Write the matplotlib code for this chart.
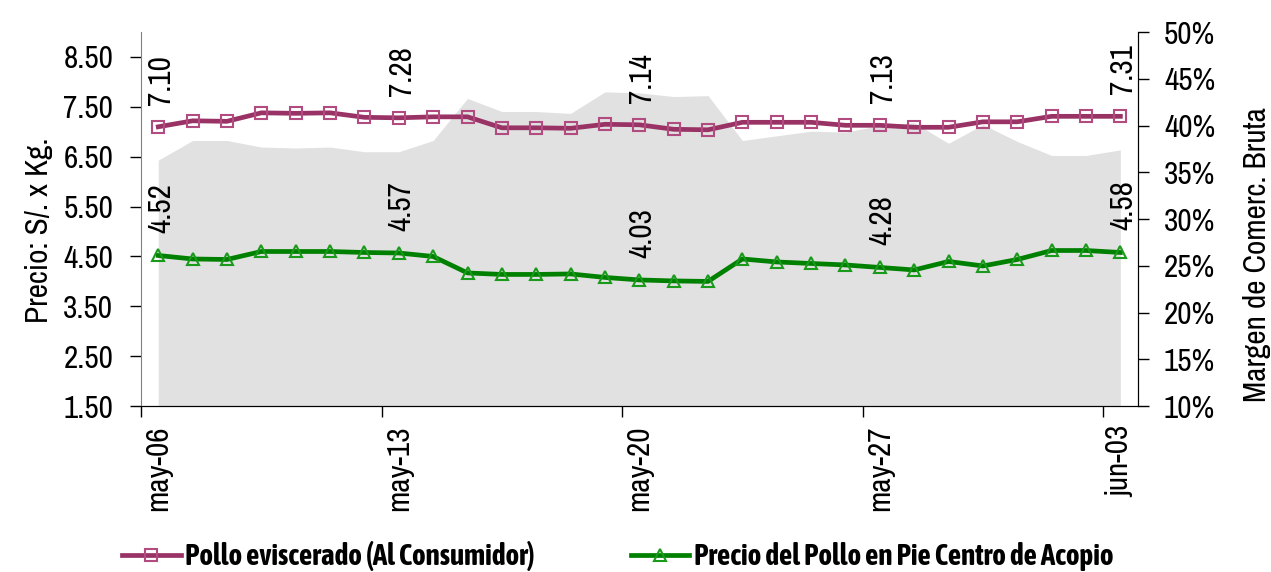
import numpy as np
import matplotlib
matplotlib.use("Agg")
import matplotlib.pyplot as plt
from matplotlib.ticker import FixedLocator, FuncFormatter

# Datos (precios diarios S/. x Kg.)
fechas = ['may-06', '', '', '', '', '', '', 'may-13', '', '', '', '', '', '', 'may-20',
          '', '', '', '', '', '', 'may-27', '', '', '', '', '', '', 'jun-03']
pollo_eviscerado = [7.10, 7.22, 7.21, 7.38, 7.37, 7.38, 7.29, 7.28, 7.30, 7.30,
                    7.08, 7.08, 7.07, 7.15, 7.14, 7.05, 7.04, 7.19, 7.19, 7.19,
                    7.13, 7.13, 7.09, 7.09, 7.20, 7.20, 7.31, 7.31, 7.31]
pollo_en_pie = [4.52, 4.45, 4.44, 4.60, 4.60, 4.60, 4.58, 4.57, 4.50, 4.17,
                4.14, 4.14, 4.15, 4.08, 4.03, 4.01, 4.00, 4.45, 4.39, 4.36,
                4.33, 4.28, 4.23, 4.40, 4.31, 4.44, 4.62, 4.62, 4.58]
margen = [36.3, 38.4, 38.4, 37.7, 37.6, 37.7, 37.2, 37.2, 38.4, 42.9,
          41.5, 41.5, 41.3, 43.6, 43.5, 43.1, 43.2, 38.4, 38.9, 39.4,
          39.3, 40.0, 40.3, 38.1, 40.1, 38.3, 36.8, 36.8, 37.4]

plt.rcParams['font.family'] = ['Liberation Sans Narrow', 'Archivo Narrow', 'Liberation Sans']
fuente_negrita = ['Liberation Sans Narrow', 'Asap Condensed', 'Liberation Sans']
TAM = 22.5

x = np.arange(len(fechas))

fig = plt.figure(figsize=(12.71, 5.72), dpi=100)
ax = fig.add_axes([0.111, 0.290, 0.784, 0.654])
ax2 = ax.twinx()

# Area del margen (eje derecho) detras de las lineas
ax2.fill_between(x, 0, margen, color='#e1e1e1', linewidth=0)
ax2.set_ylim(10, 50)
ax2.set_yticks(np.arange(10, 51, 5))
ax2.yaxis.set_major_formatter(FuncFormatter(lambda v, p: f"{v:.0f}%"))

ax.set_zorder(ax2.get_zorder() + 1)
ax.patch.set_visible(False)

l1, = ax.plot(x, pollo_eviscerado, color='#993366', lw=3.4, marker='s', markersize=9,
              markerfacecolor='none', markeredgecolor='#b24c80', markeredgewidth=1.5,
              label='Pollo eviscerado (Al Consumidor)')
l2, = ax.plot(x, pollo_en_pie, color='#008000', lw=3.4, marker='^', markersize=9,
              markerfacecolor='none', markeredgecolor='#1a9a1a', markeredgewidth=1.5,
              label='Precio del Pollo en Pie Centro de Acopio')

for i in range(0, len(x), 7):
    for serie in (pollo_eviscerado, pollo_en_pie):
        ax.annotate(f"{serie[i]:.2f}", (x[i], serie[i]), xytext=(2, 16),
                    textcoords='offset points', rotation=90, ha='center', va='bottom',
                    fontsize=TAM)

ax.set_xlim(-0.5, len(x) - 0.5)
ax.set_ylim(1.5, 9.0)
ax.set_yticks(np.arange(1.5, 8.6, 1.0))
ax.yaxis.set_major_formatter(FuncFormatter(lambda v, p: f"{v:.2f}"))

# titulos de los ejes
fig.text(39 / 1271, 1 - 230 / 572, 'Precio: S/. x Kg.', rotation=90, ha='center', va='center',
         fontsize=TAM)
fig.text(1257 / 1271, 1 - 255 / 572, 'Margen de Comerc. Bruta', rotation=90, ha='center',
         va='center', fontsize=TAM)

# marcas entre categorias, etiquetas centradas en la categoria
ax.xaxis.set_major_locator(FixedLocator(np.arange(-0.5, len(x), 7)))
ax.xaxis.set_major_formatter(FuncFormatter(lambda v, p: ''))
ax.xaxis.set_minor_locator(FixedLocator([i for i in x if fechas[i]]))
ax.xaxis.set_minor_formatter(FuncFormatter(lambda v, p: fechas[int(round(v))]))
ax.tick_params(axis='x', which='major', direction='out', length=8, width=1)
ax.tick_params(axis='x', which='minor', length=0, pad=14, labelsize=TAM, labelrotation=90)
ax.tick_params(axis='y', direction='out', length=8, width=1, pad=12, labelsize=TAM)
ax2.tick_params(axis='y', direction='out', length=8, width=1, pad=11, labelsize=TAM)

for a in (ax, ax2):
    a.spines['top'].set_visible(False)
ax.spines['left'].set_color('#808080')
ax2.spines['left'].set_visible(False)

fig.legend(handles=[l1, l2], loc='lower center', bbox_to_anchor=(0.486, -0.045), ncol=2,
           frameon=False, prop={'family': fuente_negrita, 'weight': 'bold', 'size': 21},
           columnspacing=3.3, handlelength=2.0, handletextpad=0.15)

fig.savefig('out.png', dpi=100)
plt.close()
